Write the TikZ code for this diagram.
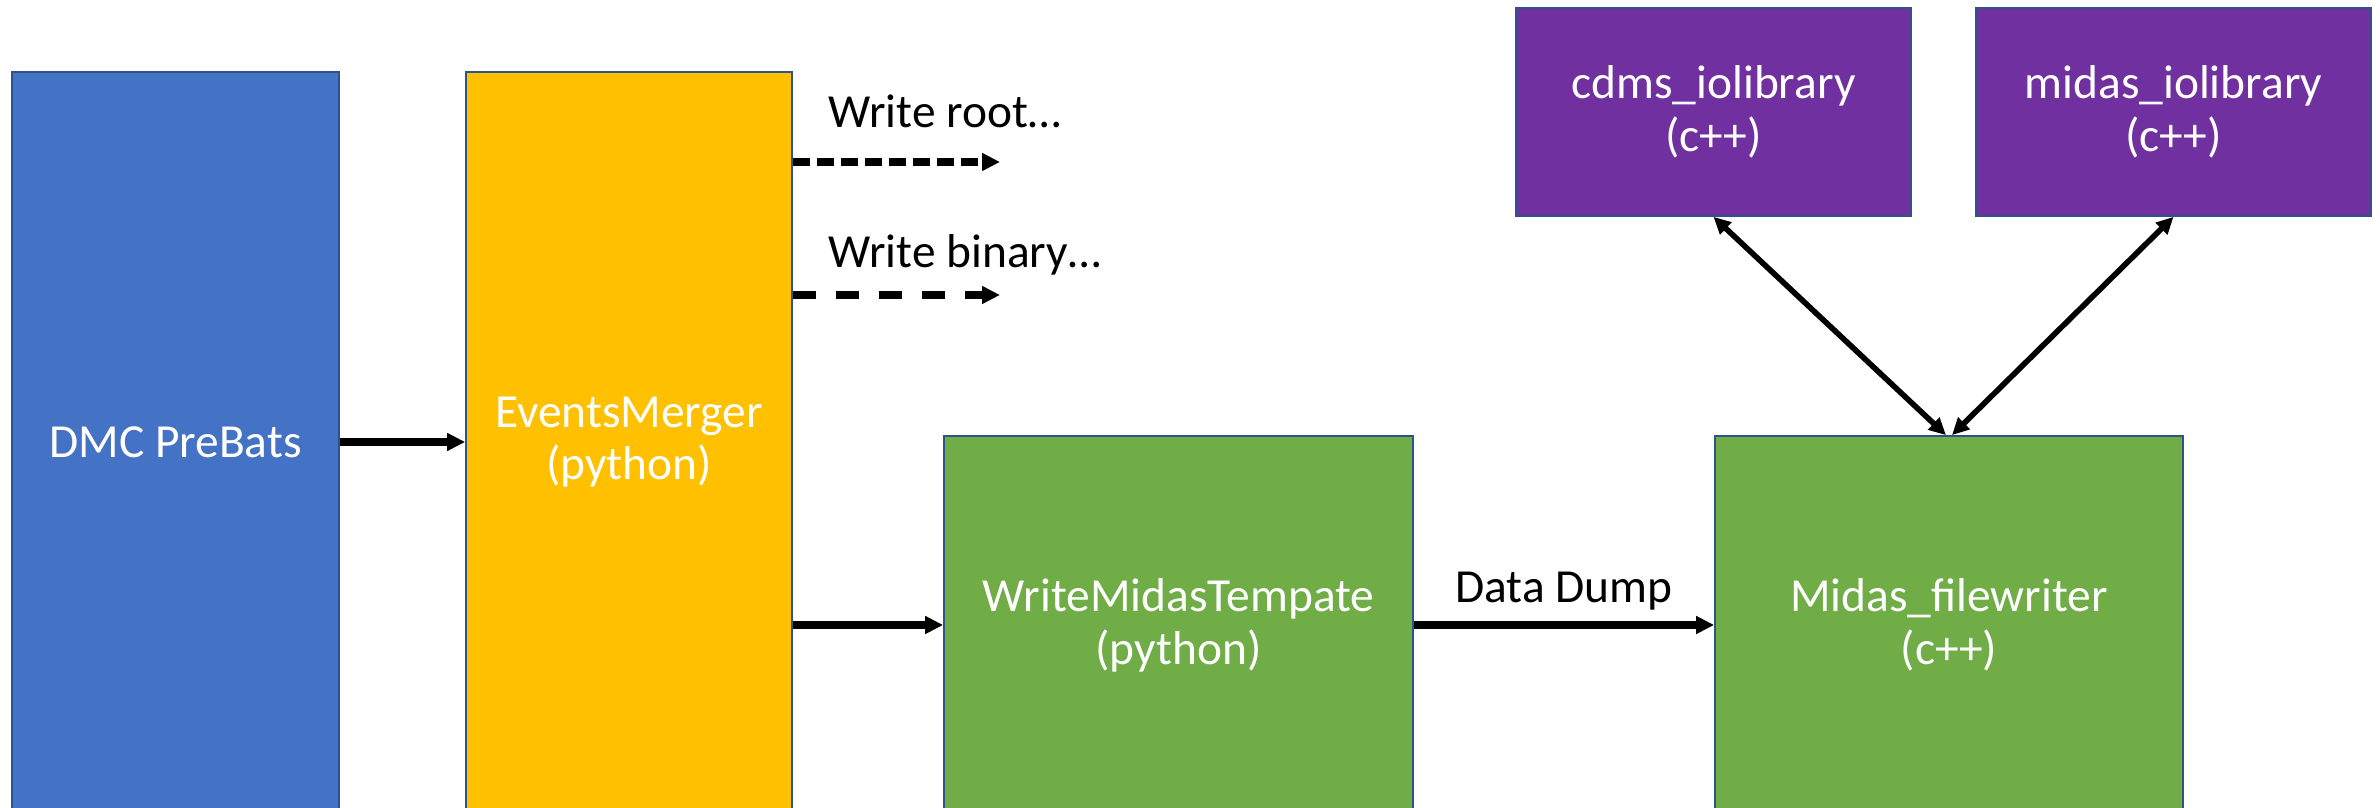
\documentclass[tikz,border=0pt]{standalone}
\usepackage{fontspec}
\setmainfont{Carlito}
\usetikzlibrary{arrows.meta}

\definecolor{preblue}{HTML}{4472C4}
\definecolor{mergegold}{HTML}{FFC000}
\definecolor{stepgreen}{HTML}{70AD47}
\definecolor{libpurple}{HTML}{7030A0}
\definecolor{edgeblue}{HTML}{2F528F}

\begin{document}
\begin{tikzpicture}[
	font=\fontsize{13.5}{15}\selectfont,
	blk/.style={draw=edgeblue, line width=0.5pt, text=white, align=center, inner sep=0pt},
	arr/.style={-{Triangle[length=0.18cm, width=0.17cm]}, line width=2pt},
	dbl/.style={{Triangle[length=0.17cm, width=0.16cm]}-{Triangle[length=0.17cm, width=0.16cm]}, line width=1.6pt}
]

% Page area, the tall boxes run off the lower edge
\useasboundingbox (0,0) rectangle (23.8,8.08);

% Boxes
\newcommand{\blk}[6]{
	\node[blk, fill=#5, minimum width=#3cm, minimum height=#4cm]
		(#1) at (#2) {#6}
	;
}
\blk  {prebats}    {1.755,3.66}   {3.27} {7.40} {preblue}   {DMC PreBats}
\blk  {merger}     {6.29,3.66}    {3.26} {7.40} {mergegold} {EventsMerger\\(python)}
\blk  {template}   {11.785,1.83}  {4.69} {3.78} {stepgreen} {WriteMidasTempate\\(python)}
\blk  {filewriter} {19.49,1.83}   {4.68} {3.78} {stepgreen} {Midas\_filewriter\\(c++)}
\blk  {cdmslib}    {17.135,6.96}  {3.95} {2.08} {libpurple} {cdms\_iolibrary\\(c++)}
\blk  {midaslib}   {21.735,6.96}  {3.95} {2.08} {libpurple} {midas\_iolibrary\\(c++)}

% Outputs that are not followed further
\coordinate (rootend)   at (10.00,6.46);
\coordinate (binaryend) at (10.00,5.13);
\node[anchor=base west] (rootlbl)   at (8.16,6.80) {Write root…};
\node[anchor=base west] (binarylbl) at (8.16,5.40) {Write binary…};

% Arrows
\draw[arr] (prebats) -- (merger);
\draw[arr, dash pattern=on 0.17cm off 0.07cm] (merger.east |- rootend) -- (rootend);
\draw[arr, dash pattern=on 0.23cm off 0.20cm] (merger.east |- binaryend) -- (binaryend);
\draw[arr] (merger.east |- template) -- (template);
\draw[arr] (template) -- node[above] {Data Dump} (filewriter);
\draw[dbl] (cdmslib.south) -- ([xshift=-0.03cm]filewriter.north);
\draw[dbl] (midaslib.south) -- ([xshift=0.03cm]filewriter.north);
\end{tikzpicture}
\end{document}
